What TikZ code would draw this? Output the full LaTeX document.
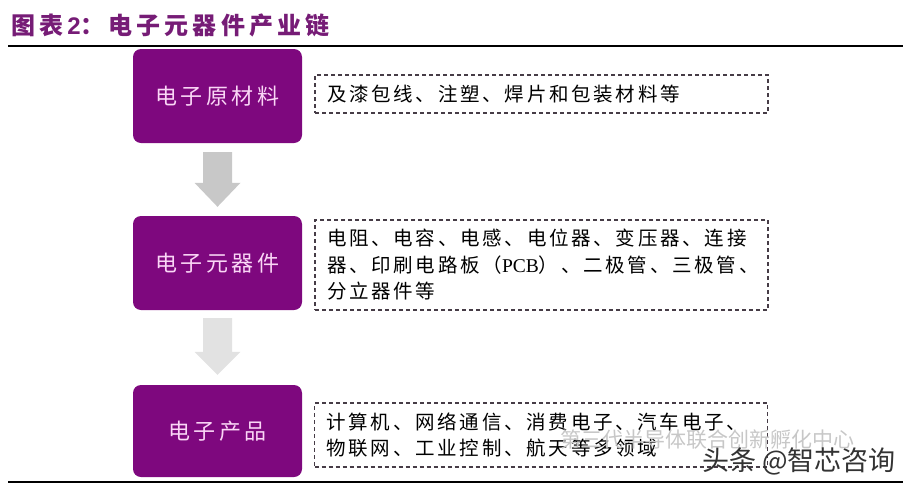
\documentclass[tikz,border=0pt]{standalone}
\usepackage{fontspec}
\setmainfont{Liberation Serif}
\newfontfamily\cjk{Noto Sans CJK SC}
\newfontfamily\cjkls[LetterSpace=16]{Noto Sans CJK SC}
\newfontfamily\cjkti[LetterSpace=17]{Noto Sans CJK SC}
\newfontfamily\cjktx[LetterSpace=14]{Noto Sans CJK SC}
\newfontfamily\sanslat{Liberation Sans}
\usetikzlibrary{calc}
\definecolor{boxpurple}{RGB}{126,8,126}
\definecolor{titlepurple}{RGB}{118,28,118}
\definecolor{labelpink}{RGB}{250,214,246}
\definecolor{dashgray}{RGB}{70,60,70}
\definecolor{arrowA}{RGB}{200,200,200}
\definecolor{arrowB}{RGB}{226,226,226}
\tikzset{
  stagebox/.style={fill=boxpurple, rounded corners=8pt, minimum width=169pt,
    text=labelpink, font=\fontsize{22}{24}\selectfont\cjkls, inner sep=0pt},
  descbox/.style={draw=dashgray, line width=1.1pt, dash pattern=on 4pt off 3pt,
    minimum width=453pt, inner xsep=12pt, inner ysep=0pt, text width=429pt,
    align=left, font=\fontsize{19.5}{26.5}\selectfont\cjktx, text=black},
  rulestyle/.style={line width=1.6pt, black},
}
\begin{document}
\begin{tikzpicture}[x=1pt,y=-1pt]
\useasboundingbox (0,0) rectangle (903,485);
% title
\node[anchor=west, text=titlepurple, inner sep=0pt,
  font=\fontsize{24}{26}\selectfont\bfseries\cjkti] (title) at (11,25)
  {图表\,{\sanslat\bfseries 2}：电子元器件产业链};
\coordinate (ruleL) at (8,46);
\coordinate (ruleR) at (903,46);
\draw[rulestyle] (ruleL) -- (ruleR);
\coordinate (bruleL) at (8,482);
\coordinate (bruleR) at (903,482);
% stage boxes
\node[stagebox, minimum height=94pt] (b1) at (217.5,96) {电子原材料};
\node[stagebox, minimum height=94pt] (b2) at (217.5,263) {电子元器件};
\node[stagebox, minimum height=92pt] (b3) at (217.5,431) {电子产品};
% description boxes
\node[descbox, minimum height=38pt] (d1) at (541.5,94) {及漆包线、注塑、焊片和包装材料等};
\node[descbox, minimum height=90pt] (d2) at (541.5,265)
  {电阻、电容、电感、电位器、变压器、连接\\
   器、印刷电路板（{\rmfamily PCB}）、二极管、三极管、\\
   分立器件等};
\node[descbox, minimum height=64pt] (d3) at (541,435)
  {计算机、网络通信、消费电子、汽车电子、\\
   物联网、工业控制、航天等多领域};
% arrows
\fill[arrowA] ($(b1.south)+(-14.5,9)$) -- ($(b1.south)+(14.5,9)$)
  -- ($(b2.north)+(14.5,-33)$) -- ($(b2.north)+(23,-33)$)
  -- ($(b2.north)+(0,-9)$) -- ($(b2.north)+(-23,-33)$)
  -- ($(b2.north)+(-14.5,-33)$) -- cycle;
\fill[arrowB] ($(b2.south)+(-14.5,8)$) -- ($(b2.south)+(14.5,8)$)
  -- ($(b3.north)+(14.5,-33)$) -- ($(b3.north)+(23,-33)$)
  -- ($(b3.north)+(0,-10)$) -- ($(b3.north)+(-23,-33)$)
  -- ($(b3.north)+(-14.5,-33)$) -- cycle;
\draw[rulestyle] (bruleL) -- (bruleR);
% watermarks
\node[anchor=west, inner sep=0pt, text=black!22,
  font=\fontsize{21}{22}\selectfont\cjk] (wm1) at (560,440) {第三代半导体联合创新孵化中心};
\node[anchor=east, inner sep=0pt, text=black!80,
  font=\fontsize{27}{28}\selectfont\cjk] (wm2) at (896,461) {头条 @智芯咨询};
\end{tikzpicture}
\end{document}
